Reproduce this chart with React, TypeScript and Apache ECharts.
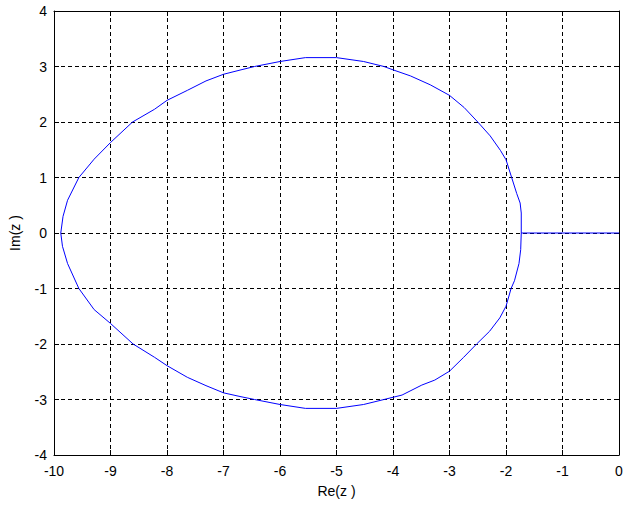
import React, { useEffect, useRef } from "react";
import * as echarts from "echarts";

const xTicks = [-10, -9, -8, -7, -6, -5, -4, -3, -2, -1, 0];
const yTicks = [-4, -3, -2, -1, 0, 1, 2, 3, 4];

// Real segment from the right end of the loop to the origin
const segmentRe = [0, -1.73];
const segmentIm = [0, 0];

// Upper half of the loop (right to left)
const upperRe = [-1.73, -1.73, -1.75, -1.81, -1.9, -2.0, -2.1, -2.28, -2.5, -2.74, -3.0, -3.34, -3.69, -4.0, -4.16, -4.52, -5.0, -5.55, -6.0, -6.45, -6.69, -7.0, -7.31, -7.64, -8.0, -8.22, -8.61, -9.0, -9.29, -9.56, -9.76, -9.84, -9.88];
const upperIm = [0, 0.36, 0.54, 0.71, 1.0, 1.32, 1.49, 1.75, 2.0, 2.26, 2.48, 2.67, 2.83, 2.94, 3.0, 3.09, 3.16, 3.16, 3.09, 3.0, 2.94, 2.86, 2.74, 2.57, 2.39, 2.23, 2.0, 1.63, 1.33, 1.0, 0.59, 0.3, 0];

// Lower half of the loop (left to right)
const lowerRe = [-9.88, -9.85, -9.76, -9.56, -9.29, -9.0, -8.6, -8.22, -8.0, -7.64, -7.31, -7.0, -6.69, -6.45, -6.0, -5.55, -5.0, -4.52, -4.16, -3.84, -3.49, -3.26, -3.0, -2.75, -2.52, -2.29, -2.11, -2.0, -1.91, -1.85, -1.77, -1.74, -1.73];
const lowerIm = [0, -0.24, -0.55, -1.0, -1.38, -1.63, -2.0, -2.24, -2.39, -2.6, -2.75, -2.88, -2.95, -3.0, -3.09, -3.16, -3.16, -3.09, -3.0, -2.92, -2.74, -2.65, -2.49, -2.24, -2.0, -1.77, -1.53, -1.32, -1.0, -0.86, -0.55, -0.3, 0];

const xName = "Re(z )";
const yName = "Im(z )";

export default function App() {
  const ref = useRef<HTMLDivElement>(null);
  useEffect(() => {
    if (!ref.current) return;
    const chart = echarts.init(ref.current, null, { renderer: "svg" });
    const pts: number[][] = [];
    segmentRe.forEach((x, i) => pts.push([x, segmentIm[i]]));
    upperRe.forEach((x, i) => pts.push([x, upperIm[i]]));
    lowerRe.forEach((x, i) => pts.push([x, lowerIm[i]]));
    const font = "Liberation Sans, Arial, sans-serif";
    const grid = { type: [4, 3] as any, color: "#000", width: 1 };
    chart.setOption({
      animation: false,
      backgroundColor: "#fff",
      grid: { left: 54, top: 11, width: 565, height: 444, containLabel: false },
      xAxis: [
        {
          type: "value",
          min: xTicks[0],
          max: xTicks[xTicks.length - 1],
          interval: 1,
          name: xName,
          nameLocation: "middle",
          nameGap: 29,
          nameTextStyle: { color: "#000", fontSize: 14, fontFamily: font },
          axisLine: { show: true, onZero: false, lineStyle: { color: "#000", width: 1 } },
          axisTick: { show: true, inside: true, length: 5, lineStyle: { color: "#000" } },
          axisLabel: { color: "#000", fontSize: 14, fontFamily: font, margin: 9 },
          splitLine: { show: true, lineStyle: grid },
        },
        {
          type: "value",
          position: "top",
          min: xTicks[0],
          max: xTicks[xTicks.length - 1],
          interval: 1,
          axisLine: { show: true, onZero: false, lineStyle: { color: "#000", width: 1 } },
          axisTick: { show: true, inside: true, length: 5, lineStyle: { color: "#000" } },
          axisLabel: { show: false },
          splitLine: { show: false },
        },
      ],
      yAxis: [
        {
          type: "value",
          min: yTicks[0],
          max: yTicks[yTicks.length - 1],
          interval: 1,
          name: yName,
          nameLocation: "middle",
          nameGap: 32,
          nameTextStyle: { color: "#000", fontSize: 14, fontFamily: font },
          axisLine: { show: true, onZero: false, lineStyle: { color: "#000", width: 1 } },
          axisTick: { show: true, inside: true, length: 5, lineStyle: { color: "#000" } },
          axisLabel: { color: "#000", fontSize: 14, fontFamily: font, margin: 7 },
          splitLine: { show: true, lineStyle: grid },
        },
        {
          type: "value",
          position: "right",
          min: yTicks[0],
          max: yTicks[yTicks.length - 1],
          interval: 1,
          axisLine: { show: true, onZero: false, lineStyle: { color: "#000", width: 1 } },
          axisTick: { show: true, inside: true, length: 5, lineStyle: { color: "#000" } },
          axisLabel: { show: false },
          splitLine: { show: false },
        },
      ],
      series: [
        {
          type: "line",
          data: pts,
          showSymbol: false,
          symbol: "none",
          smooth: false,
          lineStyle: { color: "#0000ff", width: 1 },
          xAxisIndex: 0,
          yAxisIndex: 0,
        },
      ],
    });
    return () => chart.dispose();
  }, []);
  return (
    <div
      ref={ref}
      style={{ position: "absolute", left: 0, top: 0, width: 637, height: 507 }}
    />
  );
}
